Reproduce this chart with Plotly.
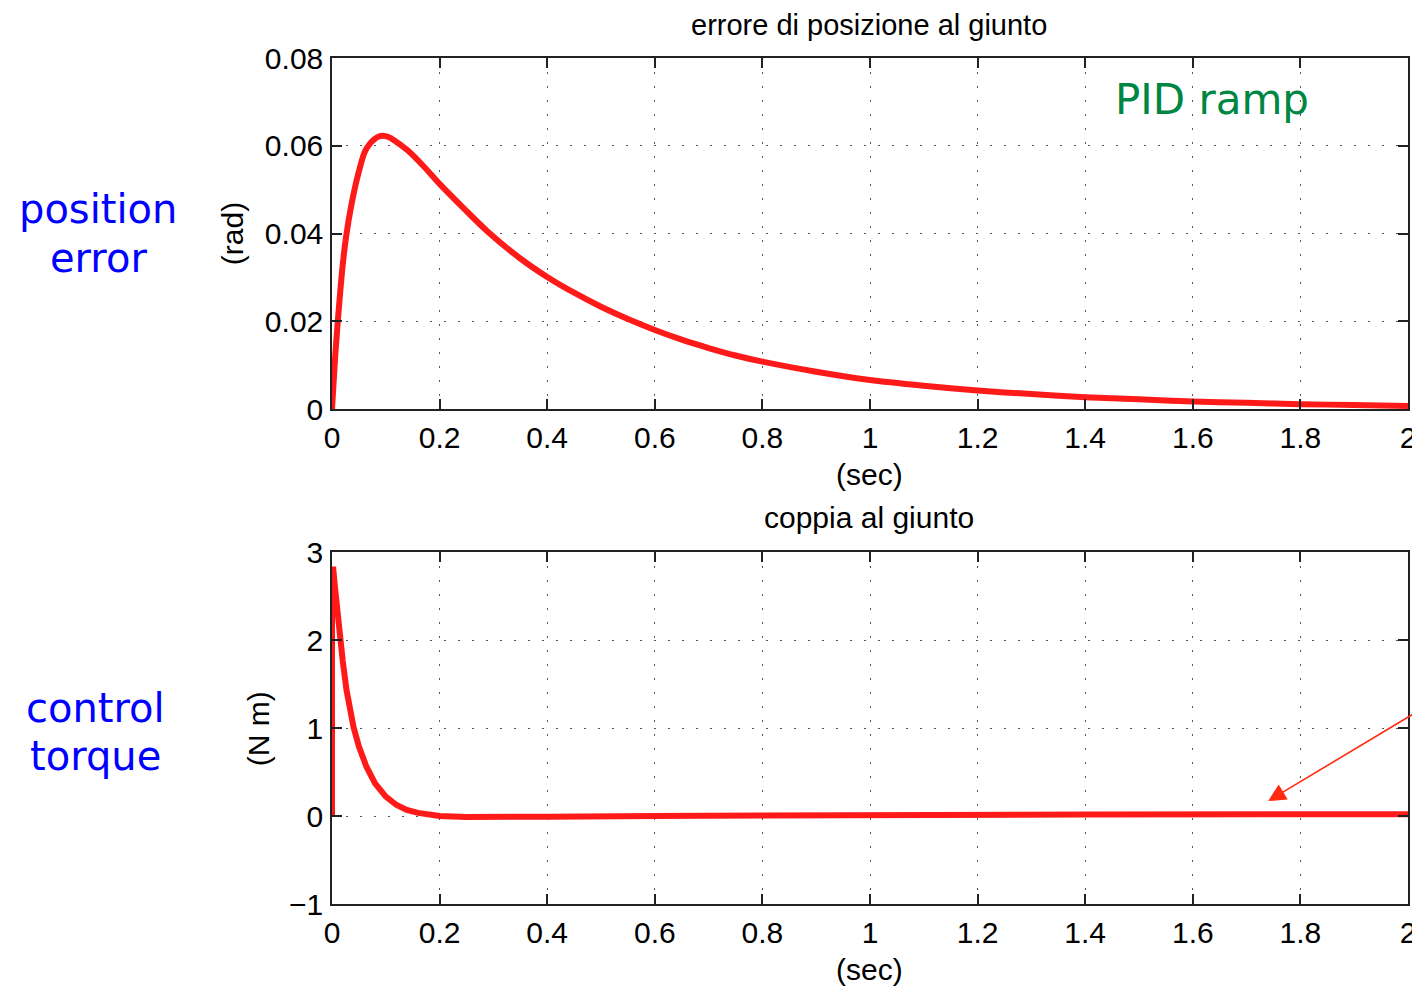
import plotly.graph_objects as go

# ---------------- data ----------------
t_err = [0, 0.0062, 0.0111, 0.0186, 0.0266, 0.0359, 0.048, 0.0606, 0.07, 0.079, 0.087,
         0.0946, 0.105, 0.116, 0.141, 0.172, 0.2, 0.25, 0.287, 0.35, 0.4, 0.45, 0.5,
         0.55, 0.6, 0.65, 0.7, 0.75, 0.8, 0.9, 1.0, 1.1, 1.2, 1.3, 1.4, 1.5, 1.6,
         1.7, 1.8, 1.9, 2.0]
err = [0, 0.0125, 0.0205, 0.0313, 0.0396, 0.0464, 0.0532, 0.0585, 0.0604, 0.0615, 0.0621,
       0.0623, 0.0620, 0.0612, 0.0589, 0.0551, 0.0513, 0.0451, 0.0407, 0.0343, 0.0301,
       0.0265, 0.0233, 0.0205, 0.0180, 0.0158, 0.0139, 0.0122, 0.0108, 0.0085, 0.0066,
       0.0053, 0.0042, 0.0034, 0.0027, 0.0022, 0.0017, 0.0014, 0.0011, 0.0009, 0.0007]

t_tq = [0, 0, 0.0025, 0.005, 0.0075, 0.01, 0.015, 0.02, 0.027, 0.033, 0.04, 0.05,
        0.064, 0.08, 0.1, 0.12, 0.139, 0.16, 0.18, 0.2, 0.25, 0.3, 0.4, 0.6, 0.8,
        1.0, 1.4, 2.0]
torque = [0, 2.8, 2.8, 2.63, 2.46, 2.29, 2.0, 1.76, 1.43, 1.22, 1.01, 0.79,
          0.56, 0.37, 0.22, 0.125, 0.07, 0.035, 0.012, 0.0, -0.01, -0.012, -0.008,
          0.0, 0.008, 0.012, 0.018, 0.02]

x_ticks = [0, 0.2, 0.4, 0.6, 0.8, 1.0, 1.2, 1.4, 1.6, 1.8, 2.0]
x_ticktext = ["0", "0.2", "0.4", "0.6", "0.8", "1", "1.2", "1.4", "1.6", "1.8", "2"]
y1_ticks = [0, 0.02, 0.04, 0.06, 0.08]
y1_ticktext = ["0", "0.02", "0.04", "0.06", "0.08"]
y2_ticks = [-1, 0, 1, 2, 3]
y2_ticktext = ["\u22121", "0", "1", "2", "3"]

title_top = "errore di posizione al giunto"
title_bot = "coppia al giunto"

# ---------------- figure ----------------
RED = "#ff1a1a"
TXT = dict(family="Liberation Sans, Arial, Helvetica, sans-serif", size=30, color="black")
BIG = "DejaVu Sans, Noto Sans, sans-serif"

W, H = 1420, 987
OFF = 8  # page body margin offset
ML, MR, MT, MB = 332 - OFF, W - (1410 - OFF), 58 - OFF, H - (904 - OFF)

fig = go.Figure()
fig.add_trace(go.Scatter(x=t_err, y=err, mode="lines",
                         line=dict(color=RED, width=6, shape="spline", smoothing=0.6),
                         xaxis="x", yaxis="y", showlegend=False))
fig.add_trace(go.Scatter(x=t_tq, y=torque, mode="lines", line=dict(color=RED, width=6),
                         xaxis="x2", yaxis="y2", showlegend=False))

ax_common = dict(
    showline=True, linecolor="#222", linewidth=1.5, mirror="ticks",
    ticks="inside", ticklen=10, tickwidth=1.5, tickcolor="#222",
    showgrid=True, gridcolor="#555", gridwidth=1.3, griddash="2px,12px",
    zeroline=False, tickfont=TXT,
)

PH = H - MT - MB
def py(pix):
    return (H - MB - (pix - OFF)) / PH

def px(pix):
    return ((pix - OFF) - ML) / (W - ML - MR)

T1, B1 = 1.0, py(409)
T2, B2 = py(552), 0.0

fig.update_layout(
    width=W, height=H,
    margin=dict(l=ML, r=MR, t=MT, b=MB),
    paper_bgcolor="white", plot_bgcolor="white",
    xaxis=dict(domain=[0, 1], anchor="y", range=[0, 2], tickvals=x_ticks,
               ticktext=x_ticktext, ticklabelstandoff=1, **ax_common),
    yaxis=dict(domain=[B1, T1], anchor="x", range=[0, 0.08], tickvals=y1_ticks,
               ticktext=y1_ticktext, ticklabelstandoff=1, **ax_common),
    xaxis2=dict(domain=[0, 1], anchor="y2", range=[0, 2], tickvals=x_ticks,
                ticktext=x_ticktext, ticklabelstandoff=1, **ax_common),
    yaxis2=dict(domain=[B2, T2], anchor="x2", range=[-1, 3], tickvals=y2_ticks,
                ticktext=y2_ticktext, ticklabelstandoff=1, **ax_common),
)

ann = []
def text(x, y, s, font, angle=0):
    ann.append(dict(xref="paper", yref="paper", x=px(x), y=py(y), text=s,
                    showarrow=False, xanchor="center", yanchor="middle",
                    font=font, textangle=angle))

text(870, 25, title_top, dict(TXT, size=29))
text(870, 517, title_bot, TXT)
text(870, 474, "(sec)", TXT)
text(870, 969, "(sec)", TXT)
text(233, 234, "(rad)", TXT, -90)
text(258, 729, "(N m)", TXT, -90)

blue = dict(family=BIG, size=40, color="#0000ff")
text(98, 209, "position", blue)
text(98, 258, "error", blue)
text(95, 708, "control", blue)
text(95, 756, "torque", blue)
text(1214, 99, "PID ramp", dict(family=BIG, size=42, color="#008643"))

# arrow pointing at the torque curve
ann.append(dict(xref="x2", yref="y2", x=1.74, y=0.17, ax=155, ay=-93, text="",
                showarrow=True, arrowhead=2, arrowsize=2.2, arrowwidth=1.6,
                arrowcolor="#ff2a10", standoff=0))

fig.update_layout(annotations=ann)
fig.write_html("out.html")
